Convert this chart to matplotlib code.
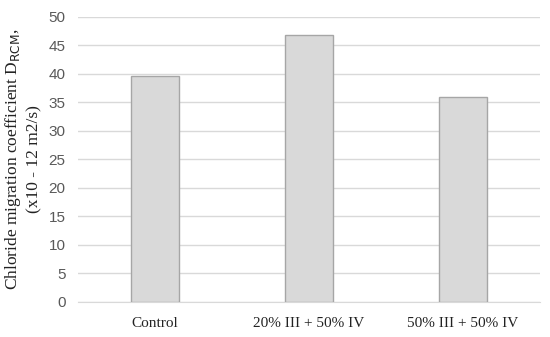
import matplotlib.pyplot as plt

categories = ["Control", "20% III + 50% IV", "50% III + 50% IV"]
values = [39.7, 46.9, 35.9]
yticks = list(range(0, 55, 5))

fig = plt.figure(figsize=(5.5, 3.37), dpi=100)
ax = fig.add_axes([0.142, 0.104, 0.840, 0.846])

x = range(len(categories))
ax.bar(x, values, width=0.31, color="#d9d9d9", edgecolor="#a6a6a6", linewidth=1.0, zorder=3)

ax.set_xlim(-0.5, len(categories) - 0.5)
ax.set_ylim(0, 50)
ax.set_yticks(yticks)
ax.set_xticks(list(x))
ax.set_xticklabels(categories, family="Liberation Serif", fontsize=11, color="#222222")
for lbl in ax.get_yticklabels():
    lbl.set_family("Liberation Sans")
    lbl.set_fontsize(11)
    lbl.set_color("#595959")

ax.grid(axis="y", color="#d9d9d9", linewidth=1.0, zorder=0)
for s in ["top", "right", "left"]:
    ax.spines[s].set_visible(False)
ax.spines["bottom"].set_color("#d9d9d9")
ax.tick_params(length=0, pad=9)
ax.tick_params(axis="x", pad=11)

ax.set_ylabel("Chloride migration coefficient D$_{\\mathrm{RCM}}$,\n(x10 - 12 m2/s)",
              family="Liberation Serif", fontsize=12.5, color="#222222",
              linespacing=1.25)
ax.yaxis.set_label_coords(-0.078, 0.5)

fig.savefig("out.png")
